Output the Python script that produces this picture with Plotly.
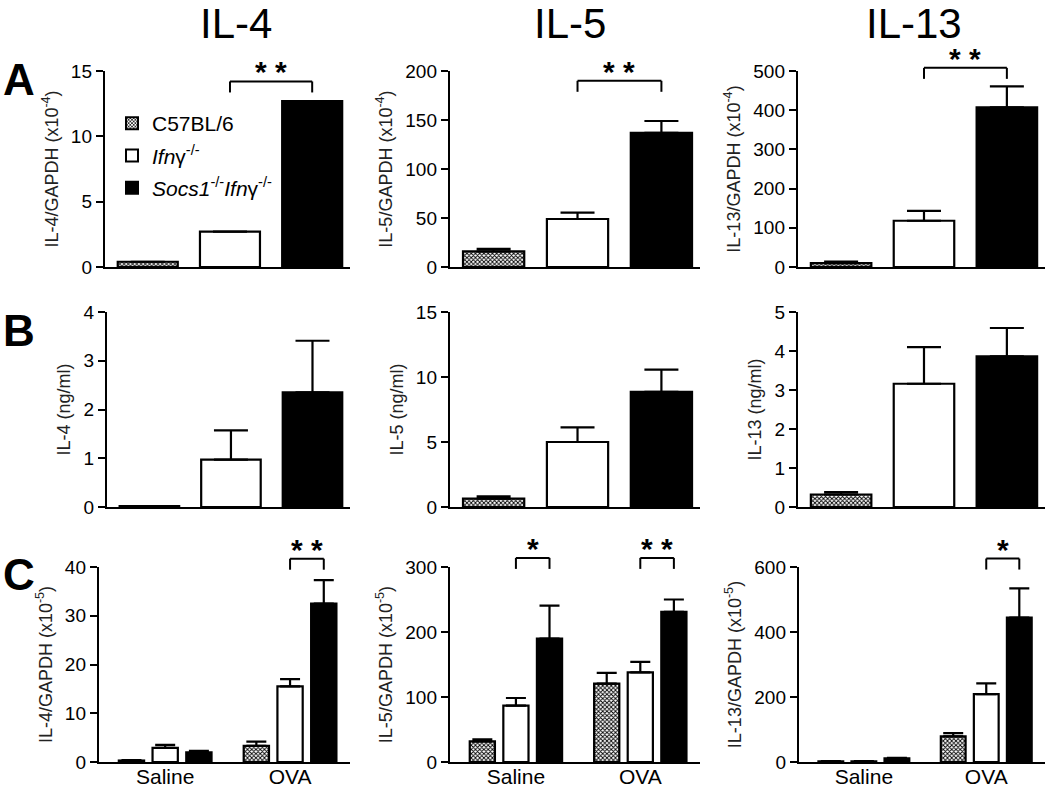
import plotly.graph_objects as go
from plotly.subplots import make_subplots

W, H = 1050, 790

# ---------------- data ----------------
strains = ["C57BL/6", "Ifnγ-/-", "Socs1-/-Ifnγ-/-"]
legend_names = ["C57BL/6",
                "<i>Ifn</i>γ<sup>-/-</sup>",
                "<i>Socs1</i><sup>-/-</sup><i>Ifn</i>γ<sup>-/-</sup>"]
cytokines = ["IL-4", "IL-5", "IL-13"]
treatments = ["Saline", "OVA"]

# Row A: mRNA / GAPDH (x10^-4)
il4_mrna = [0.4, 2.7, 12.7]
il4_mrna_sem = [0.0, 0.0, 0.0]
il5_mrna = [16, 49, 137]
il5_mrna_sem = [2.5, 6.5, 12]
il13_mrna = [10, 118, 407]
il13_mrna_sem = [4, 25, 54]

# Row B: protein (ng/ml)
il4_prot = [0.02, 0.97, 2.35]
il4_prot_sem = [0.0, 0.6, 1.06]
il5_prot = [0.64, 5.0, 8.85]
il5_prot_sem = [0.18, 1.13, 1.71]
il13_prot = [0.32, 3.16, 3.86]
il13_prot_sem = [0.06, 0.94, 0.73]

# Row C: lung mRNA / GAPDH (x10^-5), [Saline, OVA] per strain
il4_lung_c57 = [0.3, 3.3];   il4_lung_c57_sem = [0.1, 0.9]
il4_lung_ifng = [2.9, 15.5]; il4_lung_ifng_sem = [0.6, 1.5]
il4_lung_socs = [2.0, 32.5]; il4_lung_socs_sem = [0.3, 4.8]
il5_lung_c57 = [31.8, 120.5]; il5_lung_c57_sem = [3.2, 16.5]
il5_lung_ifng = [86.7, 138];  il5_lung_ifng_sem = [11.8, 16]
il5_lung_socs = [190, 231];   il5_lung_socs_sem = [50.5, 19]
il13_lung_c57 = [2, 79];      il13_lung_c57_sem = [0.5, 10]
il13_lung_ifng = [2, 208.6];  il13_lung_ifng_sem = [0.5, 33.4]
il13_lung_socs = [11, 444];   il13_lung_socs_sem = [2, 90]

y_titles = [
    ["IL-4/GAPDH (x10<sup>-4</sup>)", "IL-5/GAPDH (x10<sup>-4</sup>)", "IL-13/GAPDH (x10<sup>-4</sup>)"],
    ["IL-4 (ng/ml)", "IL-5 (ng/ml)", "IL-13 (ng/ml)"],
    ["IL-4/GAPDH (x10<sup>-5</sup>)", "IL-5/GAPDH (x10<sup>-5</sup>)", "IL-13/GAPDH (x10<sup>-5</sup>)"],
]
y_max = [[15, 200, 500], [4, 15, 5], [40, 300, 600]]
y_dtick = [[5, 50, 100], [1, 5, 1], [10, 100, 200]]

# significance brackets: (row, col, group index or None, top value, label)
sig_brackets = [
    (0, 0, None, 14.2, "* *"),
    (0, 1, None, 190, "* *"),
    (0, 2, None, 508, "* *"),
    (2, 0, 1, 41.7, "* *"),
    (2, 1, 0, 314, "*"),
    (2, 1, 1, 314, "* *"),
    (2, 2, 1, 626, "*"),
]

# ---------------- styles ----------------
FONT = "Liberation Sans, Arial, Helvetica, sans-serif"
BAR_LINE = 2.2
AX_LINE = 2.4
BARGAP = 0.19
BARGROUPGAP = 0.25


def marker_for(i):
    if i == 0:
        return dict(color="white",
                    pattern=dict(shape="x", size=3, solidity=0.5,
                                 fgcolor="black", bgcolor="white"),
                    line=dict(color="black", width=BAR_LINE))
    if i == 1:
        return dict(color="white", line=dict(color="black", width=BAR_LINE))
    return dict(color="black", line=dict(color="black", width=BAR_LINE))


def err(sem, w):
    return dict(type="data", array=sem, arrayminus=[0] * len(sem), symmetric=False,
                color="black", thickness=2.2, width=w, visible=True)


fig = make_subplots(rows=3, cols=3)

row_ab = [
    [(il4_mrna, il4_mrna_sem), (il5_mrna, il5_mrna_sem), (il13_mrna, il13_mrna_sem)],
    [(il4_prot, il4_prot_sem), (il5_prot, il5_prot_sem), (il13_prot, il13_prot_sem)],
]
for r in range(2):
    for c in range(3):
        means, sems = row_ab[r][c]
        for i, s in enumerate(strains):
            fig.add_trace(go.Bar(
                x=[s], y=[means[i]], name=legend_names[i],
                legendgroup=s, showlegend=(r == 0 and c == 0),
                offsetgroup="g", width=0.73,
                marker=marker_for(i), error_y=err([sems[i]], 17),
            ), row=r + 1, col=c + 1)

row_c = [
    [(il4_lung_c57, il4_lung_c57_sem), (il4_lung_ifng, il4_lung_ifng_sem), (il4_lung_socs, il4_lung_socs_sem)],
    [(il5_lung_c57, il5_lung_c57_sem), (il5_lung_ifng, il5_lung_ifng_sem), (il5_lung_socs, il5_lung_socs_sem)],
    [(il13_lung_c57, il13_lung_c57_sem), (il13_lung_ifng, il13_lung_ifng_sem), (il13_lung_socs, il13_lung_socs_sem)],
]
for c in range(3):
    for i, s in enumerate(strains):
        means, sems = row_c[c][i]
        fig.add_trace(go.Bar(
            x=treatments, y=means, name=legend_names[i],
            legendgroup=s, showlegend=False,
            marker=marker_for(i), error_y=err(sems, 10),
        ), row=3, col=c + 1)

# ---------------- layout / axes ----------------
col_px = [[(105, 350), (450, 700), (798, 1045)],
          [(107, 350), (450, 700), (798, 1045)],
          [(99, 350), (450, 700), (799, 1045)]]
row_px = [(71, 267), (312, 507), (567, 762)]

for r in range(3):
    for c in range(3):
        n = r * 3 + c + 1
        xa = "xaxis" if n == 1 else f"xaxis{n}"
        ya = "yaxis" if n == 1 else f"yaxis{n}"
        x0, x1 = col_px[r][c]
        y0, y1 = row_px[r]
        xrange = [-0.52, 2.46] if r < 2 else [-0.53, 1.48]
        fig.layout[xa].update(
            domain=[x0 / W, x1 / W], range=xrange, type="category",
            showline=True, linecolor="black", linewidth=AX_LINE,
            showgrid=False, zeroline=False, ticks="",
            showticklabels=(r == 2), automargin=False, ticklabelstandoff=-5,
            tickfont=dict(size=21, color="black", family=FONT), fixedrange=True,
        )
        fig.layout[ya].update(
            domain=[1 - y1 / H, 1 - y0 / H], range=[0, y_max[r][c]],
            dtick=y_dtick[r][c], tick0=0,
            showline=True, linecolor="black", linewidth=AX_LINE,
            showgrid=False, zeroline=False, ticks="outside", ticklen=7,
            tickwidth=2, tickcolor="black", automargin=False,
            tickfont=dict(size=19, color="black", family=FONT),
            title=dict(text=y_titles[r][c], standoff=8,
                       font=dict(size=18, color="#222", family=FONT)),
        )

shapes = []
annotations = []
slot = (1 - BARGAP) / 3
LEG = 11
for (r, c, g, top, label) in sig_brackets:
    n = r * 3 + c + 1
    xr = "x" if n == 1 else f"x{n}"
    yr = ("y" if n == 1 else f"y{n}") + " domain"
    if g is None:
        xa_, xb_ = 1, 2
    else:
        xa_, xb_ = g, g + slot
    yd = top / y_max[r][c]
    line = dict(color="black", width=2)
    shapes.append(dict(type="line", xref=xr, yref=yr, x0=xa_, x1=xb_, y0=yd, y1=yd, line=line))
    for xx in (xa_, xb_):
        shapes.append(dict(type="line", xref=xr, yref=yr, x0=xx, x1=xx,
                           ysizemode="pixel", yanchor=yd, y0=0, y1=-LEG, line=line))
    annotations.append(dict(xref=xr, yref=yr, x=(xa_ + xb_) / 2, y=yd, text=f"<b>{label}</b>",
                            showarrow=False, yanchor="bottom", yshift=-9,
                            font=dict(size=30, color="black", family=FONT)))

title_x = [236, 570, 914]
for c, name in enumerate(cytokines):
    annotations.append(dict(xref="paper", yref="paper", x=title_x[c] / W, y=1 - 23 / H,
                            text=name, showarrow=False, xanchor="center", yanchor="middle",
                            font=dict(size=42, color="black",
                                      family="Liberation Sans Narrow, Arial Narrow, " + FONT)))

for lab, yy in [("A", 80), ("B", 330), ("C", 574)]:
    annotations.append(dict(xref="paper", yref="paper", x=19 / W, y=1 - yy / H,
                            text=f"<b>{lab}</b>", showarrow=False, xanchor="center", yanchor="middle",
                            font=dict(size=44, color="black", family=FONT)))

fig.update_layout(
    width=W, height=H, template="none",
    margin=dict(l=0, r=0, t=0, b=0),
    paper_bgcolor="white", plot_bgcolor="white",
    barmode="group", bargap=BARGAP, bargroupgap=BARGROUPGAP,
    font=dict(family=FONT, color="black"),
    shapes=shapes, annotations=annotations,
    legend=dict(x=112 / W, y=1 - 103 / H, xanchor="left", yanchor="top",
                bgcolor="rgba(0,0,0,0)", borderwidth=0,
                font=dict(size=21, color="black", family=FONT),
                itemsizing="constant", tracegroupgap=2),
)

fig.write_html("out.html", config={"displayModeBar": False},
               post_script="document.body.style.margin='0';document.body.style.overflow='hidden';")
